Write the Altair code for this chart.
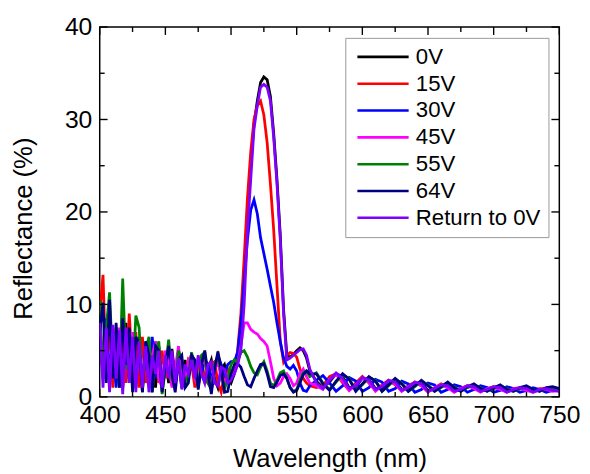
import altair as alt
import pandas as pd

# wavelength grid (nm)
WAVELENGTH = [400 + 2.5 * i for i in range(65)] + [565 + 5 * i for i in range(38)]

SERIES = ["0V", "15V", "30V", "45V", "55V", "64V", "Return to 0V"]
COLORS = ["#000000", "#FF0000", "#0000FF", "#FF00FF", "#008000", "#000080", "#8000FF"]

V0 = [7.0, 2.0, 8.0, 1.0, 7.0, 1.5, 6.5, 1.0, 8.0, 2.0, 6.0, 1.0, 6.5, 0.5, 5.5, 1.5, 5.0, 1.0, 5.5, 1.5,
      4.0, 1.5, 5.2, 2.0, 3.8, 1.0, 4.0, 2.0, 4.5, 1.5, 4.0, 3.0, 1.5, 3.0, 4.0, 2.0, 1.0, 3.0, 3.5, 2.0,
      1.5, 2.5, 4.0, 7.5, 13.0, 20.0, 25.0, 29.5, 32.0, 34.0, 34.6, 34.3, 32.5, 28.5, 23.5, 17.5, 9.5, 4.5, 4.3, 4.6,
      5.0, 5.3, 5.0, 4.2, 2.8,
      1.7, 1.0, 1.6, 2.5, 2.2, 1.0, 1.1, 2.0, 1.9, 0.9, 1.0, 1.7, 1.7, 0.8, 0.9, 1.5, 1.5, 0.7, 0.8, 1.2,
      1.3, 0.7, 0.7, 1.1, 1.2, 0.7, 0.7, 1.0, 1.1, 0.6, 0.7, 0.9, 1.0, 0.6, 0.7, 0.8, 0.8, 0.7]
V15 = [9.0, 13.2, 2.0, 8.0, 1.0, 7.5, 2.0, 7.0, 1.5, 9.0, 2.5, 7.0, 1.0, 6.5, 1.5, 5.5, 2.0, 6.0, 1.5, 5.0,
       2.0, 4.5, 3.5, 1.5, 5.0, 3.0, 1.5, 4.0, 3.5, 1.0, 3.5, 4.0, 2.0, 1.5, 3.5, 3.8, 1.5, 0.5, 2.5, 3.0,
       2.0, 3.0, 5.0, 9.0, 15.0, 21.5, 26.5, 30.0, 31.5, 32.0, 30.5, 27.5, 23.0, 18.0, 12.0, 6.0, 3.8, 4.5, 4.8, 4.7,
       4.3, 3.0, 2.0, 1.5, 1.2,
       1.0, 1.2, 2.2, 2.5, 1.5, 0.7, 1.5, 2.2, 1.5, 0.7, 1.3, 1.8, 1.3, 0.7, 1.2, 1.6, 1.2, 0.6, 1.0, 1.4,
       1.0, 0.6, 0.9, 1.2, 1.0, 0.6, 0.9, 1.1, 0.9, 0.6, 0.9, 1.0, 0.8, 0.6, 0.9, 0.9, 0.7, 0.8]
V30 = [7.5, 3.0, 8.5, 2.0, 7.0, 1.0, 6.5, 2.5, 7.0, 1.5, 6.0, 2.0, 5.5, 1.5, 5.0, 2.5, 6.5, 2.0, 4.5, 1.5,
       3.5, 4.5, 1.5, 2.0, 4.0, 3.5, 1.0, 2.5, 4.0, 3.0, 1.5, 2.5, 4.0, 3.5, 2.0, 3.0, 4.5, 3.5, 2.5, 3.5,
       3.8, 3.8, 4.8, 8.0, 12.5, 17.0, 20.2, 21.3, 19.8, 17.2, 15.5, 13.8, 12.0, 10.2, 8.0, 6.0, 4.2, 3.3, 3.0, 3.4,
       2.8, 1.5, 0.7, 0.6, 1.2,
       1.8, 2.3, 1.5, 0.6, 1.2, 2.1, 1.7, 0.6, 1.0, 1.9, 1.6, 0.6, 0.9, 1.7, 1.4, 0.5, 0.8, 1.5, 1.3, 0.5,
       0.8, 1.3, 1.1, 0.5, 0.8, 1.2, 1.0, 0.5, 0.7, 1.1, 0.9, 0.5, 0.7, 1.0, 0.8, 0.5, 0.7, 0.9]
V45 = [8.0, 4.0, 7.0, 1.5, 6.5, 3.0, 7.5, 1.0, 6.0, 2.5, 7.0, 1.5, 5.0, 2.0, 6.0, 1.0, 4.5, 6.0, 2.0, 1.0,
       5.0, 3.5, 1.0, 3.0, 5.5, 2.0, 1.5, 4.0, 4.5, 2.0, 1.0, 3.5, 4.0, 2.0, 1.2, 3.0, 3.8, 2.0, 1.5, 2.5,
       2.5, 2.5, 3.5, 5.5, 8.0, 8.0, 7.3, 7.0, 6.8, 6.3, 6.0, 5.5, 3.8, 2.0, 1.2, 1.5, 2.2, 2.5, 2.0, 1.2,
       1.5, 2.5, 3.0, 2.2, 1.5,
       1.2, 0.8, 1.9, 2.4, 1.7, 0.7, 1.3, 2.0, 1.6, 0.6, 1.2, 1.7, 1.4, 0.6, 1.1, 1.5, 1.2, 0.5, 1.0, 1.3,
       1.0, 0.5, 0.9, 1.2, 0.9, 0.5, 0.9, 1.0, 0.8, 0.5, 0.9, 0.9, 0.7, 0.5, 0.8, 0.8, 0.6, 0.7]
V55 = [10.5, 2.0, 7.5, 11.3, 3.0, 5.5, 1.0, 12.8, 3.0, 6.0, 1.5, 8.8, 7.5, 1.0, 5.0, 6.5, 0.5, 4.5, 6.0, 0.3,
       3.0, 6.2, 2.0, 1.0, 5.0, 4.0, 1.0, 2.5, 4.8, 3.0, 1.0, 4.5, 4.8, 1.5, 0.8, 3.5, 4.5, 2.5, 0.8, 2.0,
       3.5, 4.0, 3.8, 4.8, 5.0, 4.3, 3.3, 2.6, 2.4, 3.2, 3.8, 2.8, 1.5, 1.2, 1.8, 2.6, 2.8, 2.0, 1.0, 0.6,
       0.8, 1.8, 2.6, 2.8, 2.2,
       2.6, 1.5, 0.8, 1.6, 2.4, 2.0, 0.7, 1.3, 2.1, 1.8, 0.6, 1.2, 1.9, 1.5, 0.6, 1.1, 1.7, 1.3, 0.6, 1.0,
       1.5, 1.1, 0.6, 1.0, 1.3, 1.0, 0.6, 0.9, 1.2, 0.9, 0.6, 0.9, 1.1, 0.8, 0.6, 0.9, 1.0, 0.8]
V64 = [7.0, 10.2, 1.5, 10.5, 2.0, 8.0, 1.0, 8.5, 3.5, 7.5, 0.5, 6.5, 5.5, 0.5, 6.0, 4.5, 0.5, 5.5, 5.0, 0.5,
       3.5, 5.5, 2.5, 0.5, 4.0, 4.5, 1.0, 1.5, 4.5, 4.0, 0.8, 3.5, 5.0, 2.5, 0.3, 3.0, 4.9, 3.0, 0.5, 0.6,
       2.5, 3.5, 3.6, 3.2, 2.2, 1.3, 1.1, 2.0, 2.8, 3.5, 3.6, 2.5, 1.1, 1.0, 1.6, 2.3, 2.5, 2.0, 1.0, 0.5,
       0.7, 1.5, 2.4, 2.8, 2.5,
       2.5, 1.4, 0.7, 1.7, 2.5, 1.9, 0.6, 1.4, 2.2, 1.7, 0.6, 1.3, 2.0, 1.4, 0.6, 1.2, 1.8, 1.2, 0.6, 1.1,
       1.6, 1.0, 0.6, 1.1, 1.4, 0.9, 0.6, 1.0, 1.3, 0.8, 0.6, 1.0, 1.2, 0.8, 0.6, 1.0, 1.1, 0.9]
VRET = [8.0, 1.0, 7.5, 0.5, 7.8, 2.0, 7.2, 0.3, 7.5, 1.5, 6.5, 0.5, 6.0, 1.0, 5.5, 0.5, 4.5, 2.5, 5.0, 1.0,
        4.5, 2.0, 5.0, 1.5, 4.2, 0.8, 3.5, 2.5, 4.0, 2.0, 4.5, 2.5, 1.5, 3.5, 3.8, 1.5, 1.2, 3.2, 3.0, 1.5,
        1.8, 2.5, 3.5, 5.0, 10.0, 18.0, 23.5, 29.0, 31.5, 33.5, 33.8, 33.5, 32.0, 28.0, 23.0, 17.0, 9.0, 4.0, 4.2, 4.5,
        4.8, 5.1, 5.2, 4.5, 3.0,
        1.5, 0.9, 1.8, 2.6, 2.0, 0.9, 1.2, 2.1, 1.8, 0.8, 1.1, 1.8, 1.6, 0.7, 1.0, 1.6, 1.4, 0.6, 0.9, 1.3,
        1.2, 0.6, 0.8, 1.2, 1.1, 0.6, 0.8, 1.1, 1.0, 0.5, 0.8, 1.0, 0.9, 0.5, 0.8, 0.9, 0.7, 0.6]
VALUES = [V0, V15, V30, V45, V55, V64, VRET]

X_MAJOR = [400, 450, 500, 550, 600, 650, 700, 750]
X_MINOR = [425, 475, 525, 575, 625, 675, 725]
Y_MAJOR = [0, 10, 20, 30, 40]
Y_MINOR = [5, 15, 25, 35]

rows = []
for k, (name, vals) in enumerate(zip(SERIES, VALUES)):
    for w, v in zip(WAVELENGTH, vals):
        rows.append({"wl": w, "refl": v, "series": name, "k": k})
df = pd.DataFrame(rows)

W, H = 466, 375
FONT = "Liberation Sans"

xscale = alt.Scale(domain=[400, 750], nice=False, zero=False)
yscale = alt.Scale(domain=[0, 40], nice=False)

lines = alt.Chart(df).mark_line(strokeWidth=2.8, clip=True).encode(
    x=alt.X("wl:Q", scale=xscale,
            axis=alt.Axis(values=X_MAJOR, title="Wavelength (nm)", ticks=False, domain=False, grid=False,
                          labelFlush=False, labelOverlap=False, labelPadding=6, titlePadding=19)),
    y=alt.Y("refl:Q", scale=yscale,
            axis=alt.Axis(values=Y_MAJOR, title="Reflectance (%)", ticks=False, domain=False, grid=False,
                          labelFlush=False, labelOverlap=False, labelPadding=8, titlePadding=28,
                          titleY=204)),
    color=alt.Color("series:N", sort=SERIES,
                    scale=alt.Scale(domain=SERIES, range=COLORS),
                    legend=alt.Legend(title=None, orient="none", legendX=249, legendY=11,
                                      symbolType="M-5,0H5", symbolSize=108, symbolStrokeWidth=2.6,
                                      symbolOffset=19,
                                      labelFontSize=22.5, labelFont=FONT, labelColor="black",
                                      labelOffset=22, rowPadding=4.2, padding=8,
                                      strokeColor="#999999", fillColor="white")),
    detail="k:O",
)

def xticks(vals, length, top):
    d = pd.DataFrame({"wl": vals})
    y1 = 0 if top else H
    y2 = length if top else H - length
    return alt.Chart(d).mark_rule(color="black", strokeWidth=1.4).encode(
        x=alt.X("wl:Q", scale=xscale), y=alt.value(y1), y2=alt.value(y2))

def yticks(vals, length, right):
    d = pd.DataFrame({"refl": vals})
    x1 = W if right else 0
    x2 = W - length if right else length
    return alt.Chart(d).mark_rule(color="black", strokeWidth=1.4).encode(
        y=alt.Y("refl:Q", scale=yscale), x=alt.value(x1), x2=alt.value(x2))

tick_layers = [
    xticks(X_MAJOR, 8, False), xticks(X_MINOR, 5, False),
    xticks(X_MAJOR, 8, True), xticks(X_MINOR, 5, True),
    yticks(Y_MAJOR, 8, False), yticks(Y_MINOR, 5, False),
    yticks(Y_MAJOR, 8, True), yticks(Y_MINOR, 5, True),
]

chart = alt.layer(lines, *tick_layers).properties(
    width=W, height=H,
    autosize=alt.AutoSizeParams(type="none"),
    padding={"left": 93, "top": 16, "right": 23, "bottom": 82},
).configure_view(stroke="black", strokeWidth=1.5).configure_axis(
    labelFont=FONT, labelFontSize=25, labelColor="black",
    titleFont=FONT, titleFontSize=26, titleFontWeight="normal", titleColor="black",
)

chart.save("out.html", embed_options={"renderer": "svg", "actions": False})
